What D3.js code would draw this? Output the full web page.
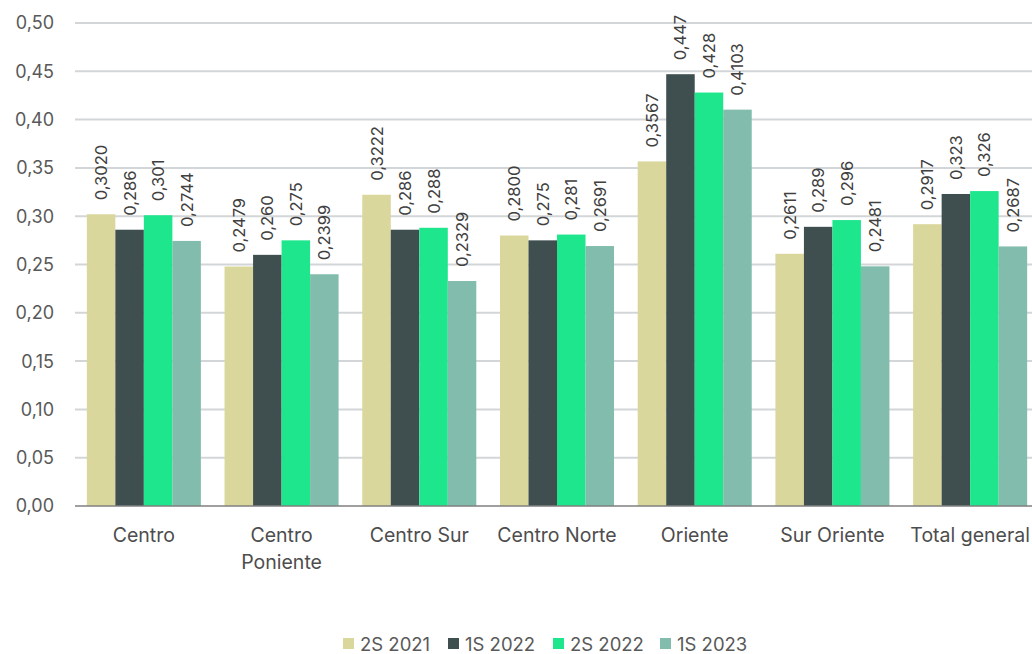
<!DOCTYPE html>
<html>
<head>
<meta charset="utf-8">
<script src="https://cdn.jsdelivr.net/npm/d3@7"></script>
<style>
  body { margin: 0; background: #fff; }
  svg { display: block; font-family: Inter, "Liberation Sans", Arial, sans-serif; }
</style>
</head>
<body>
<div id="chart"></div>
<script>
var categories = ["Centro", "Centro\nPoniente", "Centro Sur", "Centro Norte", "Oriente", "Sur Oriente", "Total general"];
var seriesNames = ["2S 2021", "1S 2022", "2S 2022", "1S 2023"];
var seriesColors = ["#d9d79b", "#3f4f50", "#1de68c", "#82bcac"];
var s2021 = [0.3020, 0.2479, 0.3222, 0.2800, 0.3567, 0.2611, 0.2917];
var s1_2022 = [0.286, 0.260, 0.286, 0.275, 0.447, 0.289, 0.323];
var s2_2022 = [0.301, 0.275, 0.288, 0.281, 0.428, 0.296, 0.326];
var s1_2023 = [0.2744, 0.2399, 0.2329, 0.2691, 0.4103, 0.2481, 0.2687];
var labels2021 = ["0,3020", "0,2479", "0,3222", "0,2800", "0,3567", "0,2611", "0,2917"];
var labels1_2022 = ["0,286", "0,260", "0,286", "0,275", "0,447", "0,289", "0,323"];
var labels2_2022 = ["0,301", "0,275", "0,288", "0,281", "0,428", "0,296", "0,326"];
var labels1_2023 = ["0,2744", "0,2399", "0,2329", "0,2691", "0,4103", "0,2481", "0,2687"];
var yTicks = [0, 0.05, 0.10, 0.15, 0.20, 0.25, 0.30, 0.35, 0.40, 0.45, 0.50];

var values = [s2021, s1_2022, s2_2022, s1_2023];
var valueLabels = [labels2021, labels1_2022, labels2_2022, labels1_2023];

function drawChart() {
  var width = 1032, height = 654;
  var svg = d3.select("#chart").append("svg")
    .attr("width", width)
    .attr("height", height);

  var x = d3.scaleBand()
    .domain(categories)
    .range([75, 1039])
    .paddingInner(0.172)
    .paddingOuter(0.086);

  var xSub = d3.scaleBand()
    .domain(d3.range(seriesNames.length))
    .range([0, x.bandwidth()]);

  var y = d3.scaleLinear()
    .domain([0, 0.5])
    .range([506, 23]);

  // grid lines
  svg.append("g")
    .selectAll("line")
    .data(yTicks.filter(function(d) { return d > 0; }))
    .enter()
    .append("line")
    .attr("x1", 75)
    .attr("x2", width)
    .attr("y1", function(d) { return y(d); })
    .attr("y2", function(d) { return y(d); })
    .attr("stroke", "#d3d6d8")
    .attr("stroke-width", 2);

  // y labels
  svg.append("g")
    .selectAll("text")
    .data(yTicks)
    .enter()
    .append("text")
    .attr("x", 54)
    .attr("y", function(d) { return y(d); })
    .attr("dy", "0.36em")
    .attr("text-anchor", "end")
    .attr("fill", "#595959")
    .style("font-size", "18px")
    .text(function(d) { return d.toFixed(2).replace(".", ","); });

  // bars
  var groups = svg.append("g")
    .selectAll("g")
    .data(categories)
    .enter()
    .append("g")
    .attr("transform", function(d) { return "translate(" + x(d) + ",0)"; });

  groups.each(function(cat, i) {
    var g = d3.select(this);
    values.forEach(function(series, s) {
      var v = series[i];
      g.append("rect")
        .attr("x", xSub(s))
        .attr("y", y(v))
        .attr("width", xSub.bandwidth())
        .attr("height", y(0) - y(v))
        .attr("fill", seriesColors[s]);

      var cx = xSub(s) + xSub.bandwidth() / 2 + 6;
      var ty = y(v) - 14;
      g.append("text")
        .attr("transform", "translate(" + cx + "," + ty + ") rotate(-90)")
        .attr("text-anchor", "start")
        .attr("fill", "#404040")
        .style("font-size", "16.5px")
        .text(valueLabels[s][i]);
    });
  });

  // zero axis
  svg.append("line")
    .attr("x1", 75)
    .attr("x2", width)
    .attr("y1", y(0))
    .attr("y2", y(0))
    .attr("stroke", "#7f7f7f")
    .attr("stroke-width", 1.5);

  // category labels
  svg.append("g")
    .selectAll("text")
    .data(categories)
    .enter()
    .append("text")
    .attr("x", function(d) { return x(d) + x.bandwidth() / 2; })
    .attr("y", 542)
    .attr("text-anchor", "middle")
    .attr("fill", "#4d4d4d")
    .style("font-size", "19.5px")
    .each(function(d) {
      var t = d3.select(this);
      d.split("\n").forEach(function(line, k) {
        t.append("tspan")
          .attr("x", x(d) + x.bandwidth() / 2)
          .attr("dy", k === 0 ? 0 : 27)
          .text(line);
      });
    });

  // legend
  var legendX = [343, 448, 553, 660];
  var legend = svg.append("g")
    .selectAll("g")
    .data(seriesNames)
    .enter()
    .append("g")
    .attr("transform", function(d, i) { return "translate(" + legendX[i] + ",638)"; });

  legend.append("rect")
    .attr("width", 11)
    .attr("height", 11)
    .attr("fill", function(d, i) { return seriesColors[i]; });

  legend.append("text")
    .attr("x", 17)
    .attr("y", 6)
    .attr("dy", "0.36em")
    .attr("fill", "#595959")
    .style("font-size", "18.5px")
    .text(function(d) { return d; });
}

drawChart();
</script>
</body>
</html>
